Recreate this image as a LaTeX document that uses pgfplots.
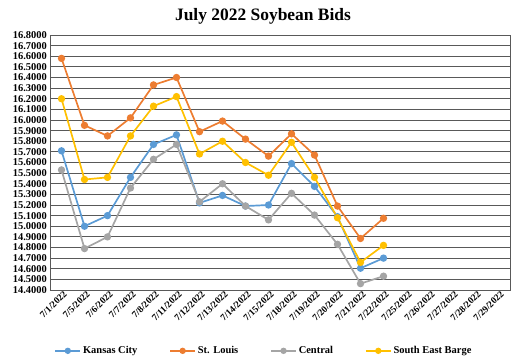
\documentclass[border=0pt]{standalone}
\usepackage{pgfplots}
\pgfplotsset{compat=1.18}
\usepackage{fontspec}
\setmainfont{Liberation Serif}
\definecolor{kc}{HTML}{5B9BD5}
\definecolor{stl}{HTML}{ED7D31}
\definecolor{cen}{HTML}{A5A5A5}
\definecolor{seb}{HTML}{FFC000}
\begin{document}
\begin{tikzpicture}
\path[use as bounding box] (-50bp,-70bp) rectangle (481bp,290bp);
\begin{axis}[
  scale only axis,
  width=460bp, height=255bp,
  xmin=-0.5, xmax=19.5,
  ymin=14.4, ymax=16.8,
  ytick={14.4,14.5,...,16.85},
  xtick={0,...,19},
  xticklabels={7/1/2022,7/5/2022,7/6/2022,7/7/2022,7/8/2022,7/11/2022,7/12/2022,7/13/2022,7/14/2022,7/15/2022,7/18/2022,7/19/2022,7/20/2022,7/21/2022,7/22/2022,7/25/2022,7/26/2022,7/27/2022,7/28/2022,7/29/2022},
  x tick label style={rotate=45, anchor=north east, font=\bfseries\fontsize{9.5}{10}\selectfont, inner sep=1pt, xshift=2bp},
  y tick label style={font=\bfseries\fontsize{10.5}{10}\selectfont, inner sep=1pt, xshift=-2bp},
  /pgf/number format/assume math mode=true,
  yticklabel style={/pgf/number format/.cd, fixed, fixed zerofill, precision=4, 1000 sep={}},
  major tick length=0pt,
  ymajorgrids,
  major grid style={black!65, line width=0.9pt},
  axis line style={black!65, line width=0.9pt},
  title={\bfseries\fontsize{17.5}{19}\selectfont July 2022 Soybean Bids},
  title style={yshift=1bp, xshift=-17bp},
  legend style={at={(0.5,-0.205)}, anchor=north, xshift=-16bp, draw=none, legend columns=4, font=\bfseries\fontsize{10.5}{11}\selectfont, /tikz/every even column/.append style={column sep=30bp}, /tikz/every odd column/.append style={column sep=0bp}},
  legend image code/.code={\draw[mark repeat=2,mark phase=2,#1,line width=1.5pt,mark size=2.4pt] plot coordinates {(0bp,0bp)(12.5bp,0bp)(25bp,0bp)};},
  every axis plot/.append style={line width=1.7pt, mark=*, mark size=2.8pt},
]
\addplot[color=kc, mark options={fill=kc}] coordinates {
(0,15.71)(1,15.00)(2,15.10)(3,15.46)(4,15.77)(5,15.86)(6,15.22)(7,15.29)(8,15.19)(9,15.20)(10,15.59)(11,15.375)(12,15.09)(13,14.605)(14,14.70)};
\addlegendentry{Kansas City}
\addplot[color=stl, mark options={fill=stl}] coordinates {
(0,16.58)(1,15.95)(2,15.85)(3,16.02)(4,16.33)(5,16.40)(6,15.89)(7,15.99)(8,15.82)(9,15.66)(10,15.87)(11,15.67)(12,15.19)(13,14.885)(14,15.075)};
\addlegendentry{St. Louis}
\addplot[color=cen, mark options={fill=cen}] coordinates {
(0,15.53)(1,14.79)(2,14.90)(3,15.36)(4,15.63)(5,15.77)(6,15.23)(7,15.40)(8,15.19)(9,15.06)(10,15.31)(11,15.105)(12,14.83)(13,14.46)(14,14.53)};
\addlegendentry{Central}
\addplot[color=seb, mark options={fill=seb}] coordinates {
(0,16.20)(1,15.44)(2,15.46)(3,15.85)(4,16.13)(5,16.22)(6,15.68)(7,15.80)(8,15.60)(9,15.48)(10,15.79)(11,15.46)(12,15.08)(13,14.66)(14,14.82)};
\addlegendentry{South East Barge}
\end{axis}
\end{tikzpicture}
\end{document}
